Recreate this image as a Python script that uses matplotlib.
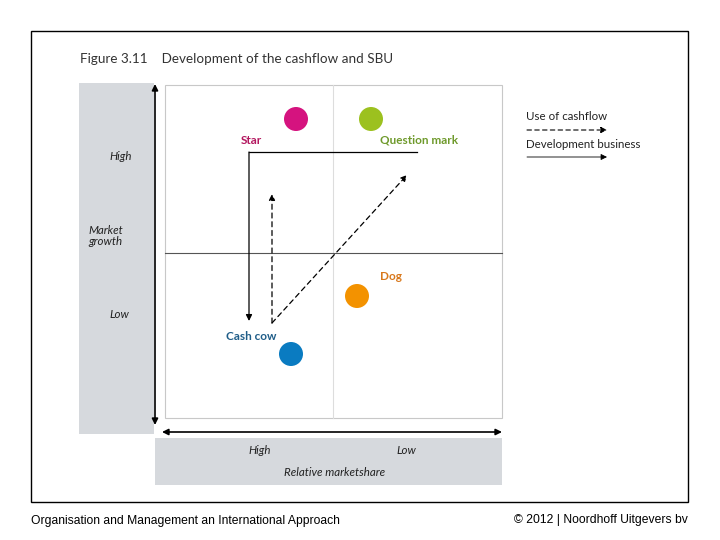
import matplotlib
matplotlib.use("Agg")
import matplotlib.pyplot as plt
from matplotlib.patches import Rectangle, Circle

# --- data ---
units = ["Star", "Question mark", "Dog", "Cash cow"]
unit_x = [296, 371, 357, 291]
unit_y = [119, 119, 296, 354]
unit_colors = ["#d5137f", "#9cc11f", "#f39200", "#0a7bc1"]
label_x = [251, 419, 391, 251]
label_y = [140, 140, 277, 337]
label_colors = ["#b3175f", "#6f9a2c", "#d8781c", "#1f5d88"]
y_ticks = ["High", "Low"]
x_ticks = ["High", "Low"]
legend_items = ["Use of cashflow", "Development business"]

W, H = 720, 540
fig = plt.figure(figsize=(7.2, 5.4), dpi=100)
ax = fig.add_axes([0, 0, 1, 1])
ax.set_xlim(0, W)
ax.set_ylim(H, 0)
ax.axis("off")

font = ["Lato", "DejaVu Sans"]

# outer frame
ax.add_patch(Rectangle((31, 31), 657, 471, fill=False, ec="black", lw=1.0))

# title
ax.text(80, 59, "Figure 3.11    Development of the cashflow and SBU", fontsize=9.7,
        family=font, color="#333333", va="center", ha="left")

# gray panels
ax.add_patch(Rectangle((79, 83), 75, 351, fc="#d6d9dd", ec="none"))
ax.add_patch(Rectangle((155, 438), 347, 47, fc="#d6d9dd", ec="none"))

# matrix box
ax.add_patch(Rectangle((165, 85), 337, 333, fill=False, ec="#c8c8c8", lw=0.8))
ax.plot([333, 333], [85, 418], color="#dddddd", lw=0.8)
ax.plot([165, 502], [253, 253], color="#555555", lw=0.8)

# axis arrows
ax.annotate("", xy=(155, 84), xytext=(155, 425),
            arrowprops=dict(arrowstyle="<|-|>", color="black", lw=1.2,
                            mutation_scale=9, shrinkA=0, shrinkB=0))
ax.annotate("", xy=(162, 432), xytext=(502, 432),
            arrowprops=dict(arrowstyle="<|-|>", color="black", lw=1.2,
                            mutation_scale=9, shrinkA=0, shrinkB=0))

# axis texts
tk = dict(fontsize=8.3, style="italic", family=font, va="center", color="#222222")
ax.text(121, 157, y_ticks[0], ha="center", **tk)
ax.text(119, 315, y_ticks[1], ha="center", **tk)
ax.text(88, 236, "Market\ngrowth", ha="left", linespacing=1.1, **tk)
ax.text(260, 450, x_ticks[0], ha="center", **tk)
ax.text(406, 450, x_ticks[1], ha="center", **tk)
ax.text(335, 472, "Relative marketshare", ha="center", **tk)

# units
for name, x, y, c, lx, ly, lc in zip(units, unit_x, unit_y, unit_colors, label_x, label_y, label_colors):
    ax.add_patch(Circle((x, y), 12, fc=c, ec="none"))
    ax.text(lx, ly, name, fontsize=8.5, fontweight="bold", family=font, color=lc,
            ha="center", va="center")

# development business (solid)
ax.plot([417, 249], [152, 152], color="black", lw=0.9)
ax.annotate("", xy=(249, 321), xytext=(249, 152),
            arrowprops=dict(arrowstyle="-|>", color="black", lw=0.9,
                            mutation_scale=9, shrinkA=0, shrinkB=0))

# use of cashflow (dashed)
ax.annotate("", xy=(272, 194), xytext=(272, 323),
            arrowprops=dict(arrowstyle="-|>", color="black", lw=0.9, linestyle=(0, (4, 3)),
                            mutation_scale=9, shrinkA=0, shrinkB=0))
ax.annotate("", xy=(407, 175), xytext=(272, 323),
            arrowprops=dict(arrowstyle="-|>", color="black", lw=0.9, linestyle=(0, (4, 3)),
                            mutation_scale=9, shrinkA=0, shrinkB=0))

# legend
ax.text(526, 117, legend_items[0], fontsize=8.3, family=font, ha="left", va="center", color="#222222")
ax.annotate("", xy=(607, 130), xytext=(527, 130),
            arrowprops=dict(arrowstyle="-|>", color="black", lw=0.8, linestyle=(0, (4, 3)),
                            mutation_scale=9, shrinkA=0, shrinkB=0))
ax.text(526, 145, legend_items[1], fontsize=8.3, family=font, ha="left", va="center", color="#222222")
ax.annotate("", xy=(607, 157), xytext=(527, 157),
            arrowprops=dict(arrowstyle="-|>", color="black", lw=0.6,
                            mutation_scale=9, shrinkA=0, shrinkB=0))

# footer
ax.text(31, 521, "Organisation and Management an International Approach", fontsize=8.7,
        family=["Liberation Sans", "DejaVu Sans"], ha="left", va="center", color="black")
ax.text(688, 520, "© 2012 | Noordhoff Uitgevers bv", fontsize=8.7,
        family=["Liberation Sans", "DejaVu Sans"], ha="right", va="center", color="black")

fig.savefig("out.png", dpi=100)
